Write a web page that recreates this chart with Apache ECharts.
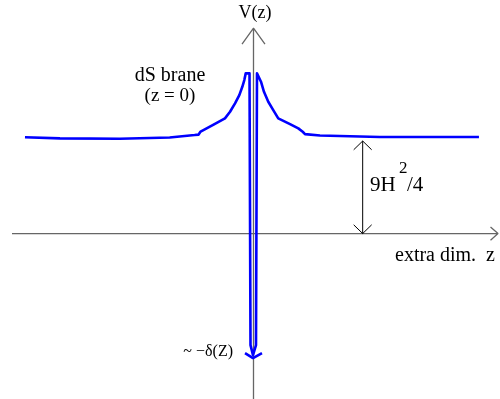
<!DOCTYPE html>
<html>
<head>
<meta charset="utf-8">
<script src="https://cdn.jsdelivr.net/npm/echarts@6/dist/echarts.min.js"></script>
<style>
  html, body { margin: 0; padding: 0; background: #fff; }
  #chart { width: 500px; height: 399px; }
</style>
</head>
<body>
<div id="chart"></div>
<script>
// volcano potential V(z) (z left to right, V in units of the plateau)
var potentialZ = [-2.29, -1.94, -1.34, -0.84, -0.59, -0.55, -0.53, -0.51, -0.40, -0.286, -0.235, -0.185, -0.142, -0.112, -0.092, -0.078,
                  -0.040, -0.030, -0.005, 0.025, 0.035,
                  0.055, 0.075, 0.105, 0.148, 0.198, 0.248, 0.366, 0.449, 0.493, 0.516, 0.666, 1.267, 1.869, 2.259];
var potentialV = [0.989, 0.978, 0.974, 0.987, 1.012, 1.017, 1.048, 1.059, 1.120, 1.184, 1.252, 1.338, 1.423, 1.508, 1.577, 1.646,
                  1.646, -1.146, -1.249, -1.146, 1.646,
                  1.646, 1.560, 1.457, 1.354, 1.269, 1.184, 1.125, 1.081, 1.046, 1.022, 1.007, 0.992, 0.992, 0.992];
// little tip at the bottom of the delta well
var wellTipZ = [-0.085, -0.005, 0.085];
var wellTipV = [-1.228, -1.280, -1.228];

// axes
var zAxisEnds = [-2.42, 2.45];
var vAxisEnds = [-1.72, 2.11];
// height marker for 9H^2/4
var markerZ = 1.094;
var markerV = [0, 0.951];

function pairs(xs, ys) {
    var out = [];
    for (var i = 0; i < xs.length; i++) out.push([xs[i], ys[i]]);
    return out;
}
// join segments into one line series, broken with nulls
function segments(list) {
    var out = [];
    list.forEach(function (seg, i) {
        if (i > 0) out.push([null, null]);
        seg.forEach(function (p) { out.push(p); });
    });
    return out;
}

var axisSegs = segments([
    [[zAxisEnds[0], 0], [zAxisEnds[1], 0]],
    [[zAxisEnds[1] - 0.075, 0.068], [zAxisEnds[1], 0], [zAxisEnds[1] - 0.075, -0.068]],
    [[0, vAxisEnds[0]], [0, vAxisEnds[1]]],
    [[-0.115, vAxisEnds[1] - 0.164], [0, vAxisEnds[1]], [0.115, vAxisEnds[1] - 0.164]]
]);
var markerSegs = segments([
    [[markerZ, markerV[0]], [markerZ, markerV[1]]],
    [[markerZ - 0.09, markerV[1] - 0.09], [markerZ, markerV[1]], [markerZ + 0.09, markerV[1] - 0.09]],
    [[markerZ - 0.09, markerV[0] + 0.09], [markerZ, markerV[0]], [markerZ + 0.09, markerV[0] + 0.09]]
]);

var serif = '"Liberation Serif", "Times New Roman", serif';
function txt(s, x, y, size, align) {
    return {
        type: 'text', x: x, y: y, z: 10,
        style: { text: s, font: size + 'px ' + serif, fill: '#000', align: align || 'center', verticalAlign: 'middle' }
    };
}

var chart = echarts.init(document.getElementById('chart'));
chart.setOption({
    animation: false,
    grid: { left: 9, right: 2, top: 0, bottom: 0 },
    xAxis: { type: 'value', min: -2.45, max: 2.45, show: false },
    yAxis: { type: 'value', min: -1.7, max: 2.4, show: false },
    series: [
        {
            type: 'line', data: axisSegs, symbol: 'none', connectNulls: false, silent: true,
            lineStyle: { color: '#666', width: 1.3 }
        },
        {
            type: 'line', data: markerSegs, symbol: 'none', connectNulls: false, silent: true,
            lineStyle: { color: '#000', width: 1 }
        },
        {
            type: 'line', data: pairs(potentialZ, potentialV), symbol: 'none',
            lineStyle: { color: '#0000ff', width: 2.6, join: 'round' }
        },
        {
            type: 'line', data: pairs(wellTipZ, wellTipV), symbol: 'none',
            lineStyle: { color: '#0000ff', width: 2.6 }
        }
    ],
    graphic: [
        txt('V(z)', 255, 13, 18),
        txt('dS brane', 170, 76, 20),
        txt('(z = 0)', 170, 96, 19),
        txt('9H', 370, 185, 21, 'left'),
        txt('2', 399, 169, 17, 'left'),
        txt('/4', 407, 185, 21, 'left'),
        txt('extra dim.  z', 395, 256, 20, 'left'),
        txt('~ \u2212\u03b4(Z)', 233, 352, 16, 'right')
    ]
});
</script>
</body>
</html>
